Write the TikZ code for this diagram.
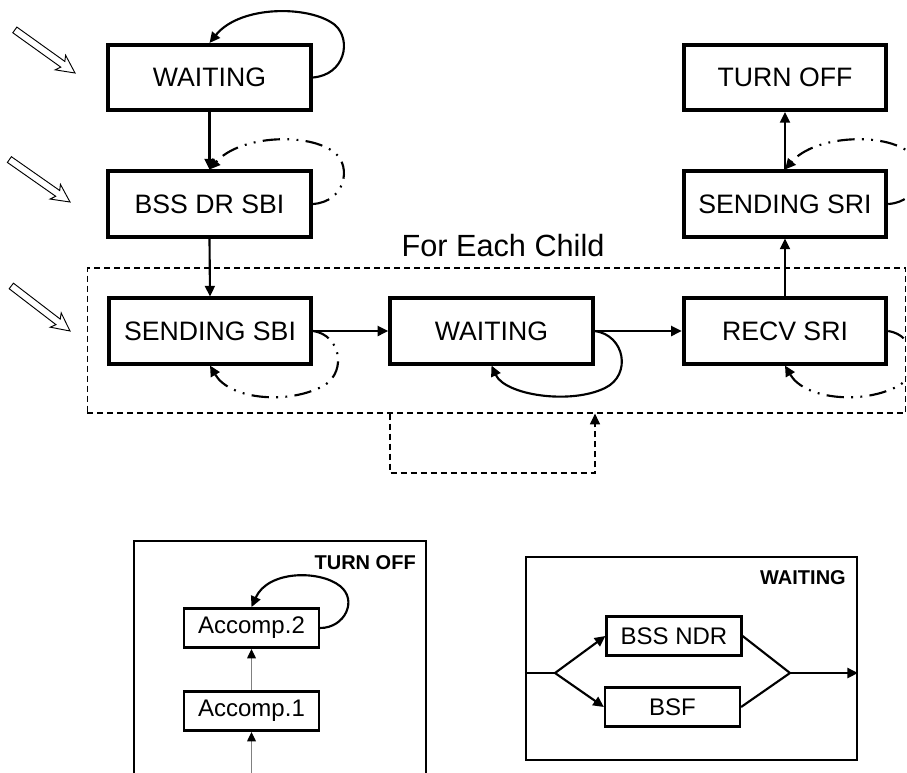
\documentclass[tikz,border=0pt]{standalone}
\usepackage{fontspec}
\setmainfont{Liberation Sans}
\usetikzlibrary{arrows.meta}
\begin{document}
\begin{tikzpicture}[x=0.75pt,y=-0.75pt,
  mainbox/.style={draw, line width=2.8pt, minimum width=152pt, minimum height=49pt, inner sep=0pt, font=\fontsize{20}{24}\selectfont},
  smallbox/.style={draw, line width=1.9pt, minimum width=101pt, minimum height=29.5pt, inner sep=0pt, font=\fontsize{18}{22}\selectfont},
  framebox/.style={draw, line width=1.6pt, inner sep=0pt},
  tip/.style={-{Triangle[length=8pt,width=7.5pt]}},
  conn/.style={line width=1.6pt, tip},
  loopline/.style={line width=1.6pt, tip},
  dashdotdot/.style={dash pattern=on 13pt off 5.5pt on 1.4pt off 5.5pt on 1.4pt off 5.5pt},
  grpdash/.style={line width=0.9pt, dash pattern=on 4.5pt off 3pt},
  boldlabel/.style={font=\bfseries\fontsize{15}{18}\selectfont, anchor=east, inner sep=0pt},
  harrow/.pic={\draw[line width=0.7pt, fill=white] (0,0) -- (-18,-9) -- (-15,-3.5) -- (-74,-3.5) -- (-74,3.5) -- (-15,3.5) -- (-18,9) -- cycle;}
]
\clip (0,0) rectangle (907,772);

% hollow entry arrows
\pic[rotate=-35.6] at (75,73) {harrow};
\pic[rotate=-35] at (70,202) {harrow};
\pic[rotate=-37.5] at (70,331) {harrow};

% group box
\node[draw, grpdash, minimum width=614pt, minimum height=108.75pt, inner sep=0pt] (grp) at (496.5,340.5) {};
\node[font=\fontsize{23}{27}\selectfont] (lbl) at (503,246) {For Each Child};

% main states
\node[mainbox] (w1) at (209.5,77.5) {WAITING};
\node[mainbox] (b1) at (209.5,204) {BSS DR SBI};
\node[mainbox] (s1) at (210,331) {SENDING SBI};
\node[mainbox] (w2) at (491.5,331) {WAITING};
\node[mainbox] (r1) at (785,331) {RECV SRI};
\node[mainbox] (s2) at (785,204) {SENDING SRI};
\node[mainbox] (t1) at (785,77.5) {TURN OFF};

% straight transitions
\draw[conn] (w1.south) -- (b1.north);
\draw[conn] (b1.south) -- (s1.north);
\draw[conn] (s1.east) -- (w2.west);
\draw[conn] (w2.east) -- (r1.west);
\draw[conn] (r1.north) -- (s2.south);
\draw[conn] (s2.north) -- (t1.south);

% self loops
\draw[loopline] (w1.east) .. controls (345,75) and (352,40) .. (335,25) .. controls (310,5) and (240,5) .. (w1.north);
\draw[loopline, dashdotdot] (b1.east) .. controls (345,202) and (352,167) .. (335,153) .. controls (310,132) and (240,135) .. (b1.north);
\draw[loopline, dashdotdot] (s1.east) .. controls (340,335) and (347,370) .. (325,385) .. controls (290,405) and (230,400) .. (s1.south);
\draw[loopline] (w2.east) .. controls (625,335) and (632,375) .. (605,388) .. controls (570,405) and (505,395) .. (w2.south);
\draw[loopline, dashdotdot] (r1.east) .. controls (915,335) and (922,370) .. (900,385) .. controls (865,405) and (805,400) .. (r1.south);
\draw[loopline, dashdotdot] (s2.east) .. controls (920,202) and (927,167) .. (910,153) .. controls (885,132) and (815,135) .. (s2.north);

% dashed feedback
\coordinate (fbL) at (390,473);
\coordinate (fbR) at (595,473);
\draw[grpdash, tip] (grp.south -| fbL) -- (fbL) -- (fbR) -- (grp.south -| fbR);

% bottom-left inset
\node[framebox, minimum width=219pt, minimum height=194.25pt] (blbox) at (280,670.5) {};
\node[boldlabel] (blt) at (416,563) {TURN OFF};
\node[smallbox] (a2) at (251.5,628) {Accomp.2};
\node[smallbox] (a1) at (251.5,711) {Accomp.1};
\coordinate (bin) at (251.5,790);
\draw[gray, line width=0.9pt, -{Triangle[length=7pt,width=6.5pt,color=black]}] (a1.north) -- (a2.south);
\draw[gray, line width=0.9pt, -{Triangle[length=7pt,width=6.5pt,color=black]}] (bin) -- (a1.south);
\draw[loopline] (a2.east) .. controls (345,628) and (358,600) .. (340,586) .. controls (320,570) and (268,570) .. (a2.north);

% bottom-right inset
\node[framebox, minimum width=248.25pt, minimum height=152.25pt] (brbox) at (691.5,658.5) {};
\node[boldlabel] (brt) at (846,578) {WAITING};
\node[smallbox] (n1) at (674,636) {BSS NDR};
\node[smallbox] (f1) at (672.5,707) {BSF};
\coordinate (split) at (555,673);
\coordinate (join) at (790,673);
\draw[line width=1.6pt] (brbox.west |- split) -- (split);
\draw[conn] (split) -- (n1.west);
\draw[conn] (split) -- (f1.west);
\draw[line width=1.6pt] (n1.east) -- (join) -- (f1.east);
\draw[conn] (join) -- (brbox.east |- join);
\end{tikzpicture}
\end{document}
